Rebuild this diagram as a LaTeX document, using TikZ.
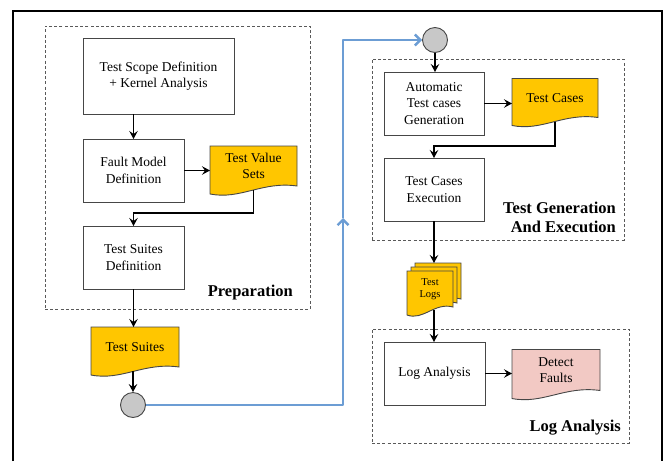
\documentclass[tikz,border=0pt]{standalone}
\usepackage{fontspec}
\setmainfont{Liberation Serif}
\usetikzlibrary{arrows.meta,calc,backgrounds}
\definecolor{docyellow}{RGB}{255,198,0}
\definecolor{docpink}{RGB}{242,201,196}
\definecolor{flowblue}{RGB}{108,157,212}
\definecolor{circgray}{RGB}{200,200,200}
\definecolor{edgegray}{RGB}{70,70,70}
\newcommand\boxfont{\fontsize{13.5}{16.5}\selectfont}
\newcommand\smallboxfont{\fontsize{10.5}{12.5}\selectfont}
\newcommand\lblfont{\fontsize{16.5}{19}\selectfont\bfseries}
\newcommand\docshape[4]{%
  \filldraw[docline, fill=#2]
    ($(#1.north west)+(#3,#4)$) -- ($(#1.north east)+(#3,#4)$) -- ($(#1.south east)+(#3,#4)$)
    .. controls ($(#1.south west)!0.6!(#1.south east)+(#3,#4)+(0,-5)$)
    and ($(#1.south west)!0.35!(#1.south east)+(#3,#4)+(0,14)$)
    .. ($(#1.south west)+(#3,#4)+(0,8)$) -- cycle;}
\tikzset{
  procbox/.style={draw=edgegray, line width=0.9pt, fill=white, inner sep=0pt, outer sep=0pt,
    align=center, font=\boxfont},
  docnode/.style={inner sep=0pt, outer sep=0pt, align=center, font=\boxfont},
  docline/.style={draw=edgegray, line width=0.9pt},
  dashbox/.style={draw=black!65, dashed, dash pattern=on 3pt off 2.2pt, line width=0.8pt, inner sep=0pt},
  lbl/.style={font=\lblfont, align=right, inner sep=0pt},
  circ/.style={circle, draw=edgegray, line width=0.9pt, fill=circgray, minimum size=25pt, inner sep=0pt},
  flow/.style={line width=1.4pt, -{Stealth[length=8pt,width=8.5pt,inset=3pt]}},
  blueflow/.style={draw=flowblue, line width=2.4pt, line join=round},
  bluearrow/.style={blueflow, -{Straight Barb[length=5.5pt,width=11pt]}}
}
\begin{document}
\begin{tikzpicture}[x=1pt,y=-1pt]
\useasboundingbox (0,0) rectangle (663,461);
% outer frame
\draw[line width=1.6pt] (13,461) -- (13,11) -- (662,11) -- (662,461);
% dashed group boxes
\node[dashbox, minimum width=265pt, minimum height=283pt] (prep) at (177.5,167.5) {};
\node[dashbox, minimum width=252pt, minimum height=181pt] (tgen) at (498,149.5) {};
\node[dashbox, minimum width=257pt, minimum height=114pt] (lana) at (500.5,386) {};
\node[lbl, anchor=east] (preplbl) at (293,293) {Preparation};
\node[lbl, anchor=east] (tgenlbl) at (616,217) {Test Generation\\And Execution};
\node[lbl, anchor=east] (lanalbl) at (621,428) {Log Analysis};
% preparation
\node[procbox, minimum width=151pt, minimum height=76pt] (scope) at (158.5,76) {Test Scope Definition\\+ Kernel Analysis};
\node[procbox, minimum width=101pt, minimum height=63pt] (fault) at (133.5,170.5) {Fault Model\\Definition};
\node[docnode, minimum width=87pt, minimum height=40pt] (tvs) at (253.5,166) {Test Value\\Sets};
\node[procbox, minimum width=101pt, minimum height=63pt] (suitedef) at (133.5,257.5) {Test Suites\\Definition};
\node[docnode, minimum width=88pt, minimum height=40pt] (suites) at (135,347) {Test Suites};
\node[circ] (c1) at (133,405) {};
% test generation
\node[circ] (c2) at (435,40) {};
\node[procbox, minimum width=100pt, minimum height=63pt] (autogen) at (434,103.5) {Automatic\\Test cases\\Generation};
\node[docnode, minimum width=86pt, minimum height=39pt] (tcases) at (555,98) {Test Cases};
\node[procbox, minimum width=100pt, minimum height=63pt] (texec) at (434,189.5) {Test Cases\\Execution};
\node[docnode, minimum width=46pt, minimum height=36pt, font=\smallboxfont] (tlogs) at (430,289) {Test\\Logs};
% log analysis
\node[procbox, minimum width=101pt, minimum height=63pt] (loga) at (434.5,373.5) {Log Analysis};
\node[docnode, minimum width=88pt, minimum height=41pt] (faults) at (556,370) {Detect\\Faults};
\begin{pgfonlayer}{background}
  \docshape{tvs}{docyellow}{0}{0}
  \docshape{suites}{docyellow}{0}{0}
  \docshape{tcases}{docyellow}{0}{0}
  \docshape{tlogs}{docyellow}{8}{-8}
  \docshape{tlogs}{docyellow}{4}{-4}
  \docshape{tlogs}{docyellow}{0}{0}
  \docshape{faults}{docpink}{0}{0}
\end{pgfonlayer}
% connectors
\draw[flow] (scope.south -| fault.north) -- (fault.north);
\draw[flow] (fault.east) -- (fault.east -| tvs.west);
\draw[flow] ($(tvs.south)+(0,4)$) |- ($(suitedef.north)+(0,-13)$) -- (suitedef.north);
\draw[flow] (suitedef.south) -- (suitedef.south |- suites.north);
\draw[flow] ($(c1.north |- suites.south)+(0,4)$) -- (c1.north);
\coordinate (bl) at (343,405);
\coordinate (tl) at (343,40);
\coordinate (bm) at (343,218);
\draw[bluearrow] (c1.east) -- (bl) -- (bm);
\draw[bluearrow] (bm) -- (tl) -- (c2.west);
\draw[flow] (c2.south) -- (c2.south |- autogen.north);
\draw[flow] (autogen.east) -- (autogen.east -| tcases.west);
\draw[flow] ($(tcases.south)+(0,4)$) |- ($(texec.north)+(0,-12)$) -- (texec.north);
\draw[flow] (texec.south) -- ($(texec.south |- tlogs.north)+(0,-8)$);
\draw[flow] ($(texec.south |- tlogs.south)+(0,3)$) -- (texec.south |- loga.north);
\draw[flow] (loga.east) -- (loga.east -| faults.west);
\end{tikzpicture}
\end{document}
